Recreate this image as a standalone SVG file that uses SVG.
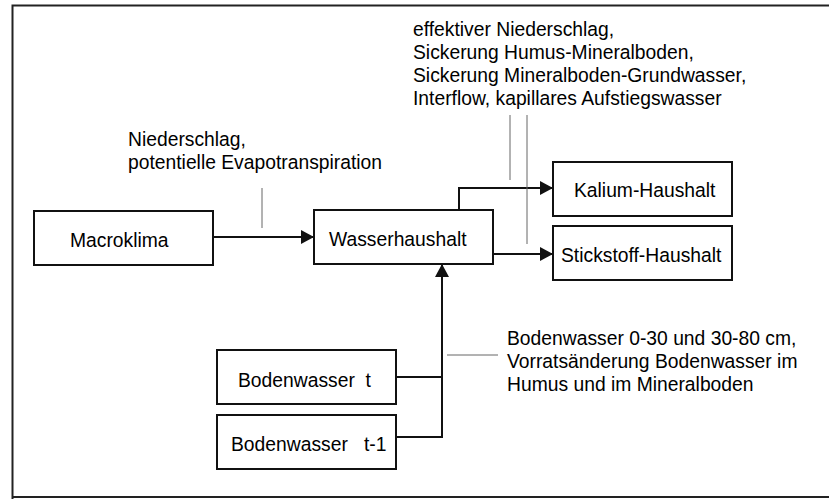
<svg xmlns="http://www.w3.org/2000/svg" width="829" height="499" viewBox="0 0 829 499">
<style>
text{font-family:"Liberation Sans",Arial,Helvetica,sans-serif;font-size:19.3px;fill:#000;white-space:pre}
.box{fill:#fff;stroke:#111;stroke-width:2}
.con{fill:none;stroke:#111;stroke-width:2}
.lead{fill:none;stroke:#666;stroke-width:1}
</style>
<defs>
<marker id="ah" markerUnits="userSpaceOnUse" markerWidth="15" markerHeight="16" viewBox="0 0 15 16" refX="14" refY="8" orient="auto">
<path d="M1,1 L14,8 L1,15 Z" fill="#111"/>
</marker>
</defs>
<rect x="0" y="0" width="829" height="499" fill="#fff"/>
<path d="M12.5,499 V5.5 H829 M12.5,497 H829" fill="none" stroke="#222" stroke-width="2"/>

<g id="connectors">
<path class="con" d="M213,237 H314" marker-end="url(#ah)"/>
<path class="con" d="M459,210 V188 H553" marker-end="url(#ah)"/>
<path class="con" d="M493,254 H553" marker-end="url(#ah)"/>
<path class="con" d="M396,377 H442"/>
<path class="con" d="M396,437 H442 V264" marker-end="url(#ah)"/>
<path class="lead" d="M262,188 V228"/>
<path class="lead" d="M510,115 V180"/>
<path class="lead" d="M527,115 V244"/>
<path class="lead" d="M447,355 H498"/>
</g>

<g id="label-niederschlag">
<text x="128" y="146">Niederschlag,</text>
<text x="128" y="169">potentielle Evapotranspiration</text>
</g>
<g id="label-fluxes">
<text x="413" y="36">effektiver Niederschlag,</text>
<text x="413" y="59">Sickerung Humus-Mineralboden,</text>
<text x="413" y="82">Sickerung Mineralboden-Grundwasser,</text>
<text x="413" y="105">Interflow, kapillares Aufstiegswasser</text>
</g>
<g id="label-bodenwasser">
<text x="507" y="345">Bodenwasser 0-30 und 30-80 cm,</text>
<text x="507" y="368">Vorratsänderung Bodenwasser im</text>
<text x="507" y="391">Humus und im Mineralboden</text>
</g>

<g id="macroklima">
<rect class="box" x="34" y="211" width="179" height="54"/>
<text x="70" y="247">Macroklima</text>
</g>
<g id="wasserhaushalt">
<rect class="box" x="314" y="210" width="179" height="54"/>
<text x="329" y="246">Wasserhaushalt</text>
</g>
<g id="kalium">
<rect class="box" x="553" y="162" width="179" height="54"/>
<text x="574" y="197">Kalium-Haushalt</text>
</g>
<g id="stickstoff">
<rect class="box" x="553" y="226" width="179" height="54"/>
<text x="561" y="262">Stickstoff-Haushalt</text>
</g>
<g id="bodenwasser-t">
<rect class="box" x="217" y="350" width="179" height="54"/>
<text x="238" y="387">Bodenwasser  t</text>
</g>
<g id="bodenwasser-t1">
<rect class="box" x="217" y="415" width="179" height="54"/>
<text x="231" y="451">Bodenwasser   t-1</text>
</g>
</svg>
